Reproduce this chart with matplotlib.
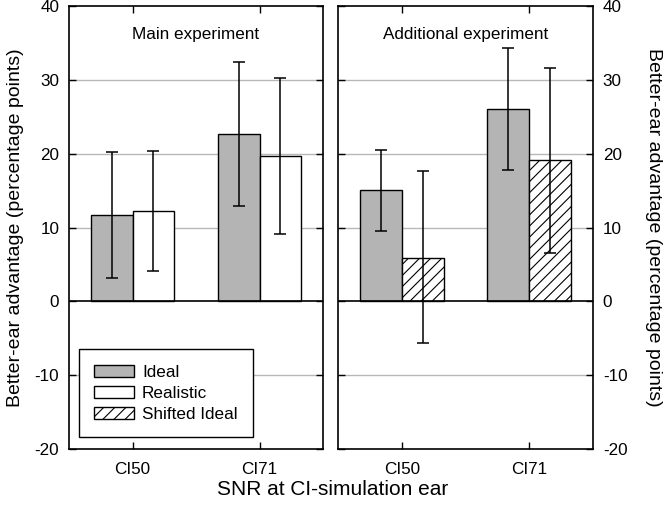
import matplotlib
matplotlib.use("Agg")
import matplotlib.pyplot as plt

plt.rcParams['font.family'] = ['Liberation Sans', 'DejaVu Sans']
plt.rcParams['hatch.linewidth'] = 0.8

# data
conditions = ["CI50", "CI71"]

main_ideal = [11.7, 22.7]
main_ideal_lo = [3.2, 12.9]
main_ideal_hi = [20.3, 32.5]
main_real = [12.2, 19.7]
main_real_lo = [4.1, 9.1]
main_real_hi = [20.4, 30.3]

add_ideal = [15.1, 26.1]
add_ideal_lo = [9.6, 17.8]
add_ideal_hi = [20.5, 34.3]
add_shift = [5.9, 19.1]
add_shift_lo = [-5.7, 6.6]
add_shift_hi = [17.6, 31.6]

ytick_vals = [-20, -10, 0, 10, 20, 30, 40]

W = 0.33
GRAY = "#b4b4b4"
FS = 12.3

fig = plt.figure(figsize=(6.66, 5.12), dpi=100)
ax1 = fig.add_axes([0.1036, 0.123, 0.3814, 0.865])
ax2 = fig.add_axes([0.5075, 0.123, 0.383, 0.865])


def err(vals, lo, hi):
    return [[v - l for v, l in zip(vals, lo)], [h - v for v, h in zip(vals, hi)]]


def draw(ax, v1, lo1, hi1, v2, lo2, hi2, hatch2, title):
    x = list(range(len(conditions)))
    xa = [i - W / 2 for i in x]
    xb = [i + W / 2 for i in x]
    for yv in [-10, 10, 20, 30]:
        ax.axhline(yv, color="#b8b8b8", lw=1.0, zorder=0)
    b1 = ax.bar(xa, v1, W, color=GRAY, edgecolor="black", lw=1.0, zorder=2, label="Ideal")
    b2 = ax.bar(xb, v2, W, color="white", edgecolor="black", lw=1.0, hatch=hatch2, zorder=2)
    ax.errorbar(xa, v1, yerr=err(v1, lo1, hi1), fmt="none", ecolor="black",
                elinewidth=1.1, capsize=4.5, capthick=1.1, zorder=3)
    ax.errorbar(xb, v2, yerr=err(v2, lo2, hi2), fmt="none", ecolor="black",
                elinewidth=1.1, capsize=4.5, capthick=1.1, zorder=3)
    ax.axhline(0, color="black", lw=1.2, zorder=2.5)
    ax.set_xlim(-0.5, 1.5)
    ax.set_ylim(-20, 40)
    ax.set_xticks(x)
    ax.set_xticklabels(conditions, fontsize=FS)
    ax.set_yticks(ytick_vals)
    ax.tick_params(direction="in", top=True, bottom=True, left=True, right=True,
                   length=5, width=1, labelsize=FS, pad=7)
    ax.tick_params(axis="x", pad=9)
    for s in ax.spines.values():
        s.set_linewidth(1.2)
    ax.text(0.5, 0.937, title, transform=ax.transAxes, ha="center", va="center",
            fontsize=FS)
    return b1, b2


b1, b2 = draw(ax1, main_ideal, main_ideal_lo, main_ideal_hi,
              main_real, main_real_lo, main_real_hi, None, "Main experiment")
b1b, b3 = draw(ax2, add_ideal, add_ideal_lo, add_ideal_hi,
               add_shift, add_shift_lo, add_shift_hi, "///", "Additional experiment")

ax1.tick_params(labelleft=True, labelright=False)
ax1.set_yticklabels([str(v) for v in ytick_vals])
ax2.tick_params(labelleft=False, labelright=True)
ax2.set_yticklabels([str(v) for v in ytick_vals])

ax1.set_ylabel("Better-ear advantage (percentage points)", fontsize=14, labelpad=8)
ax2.yaxis.set_label_position("right")
ax2.set_ylabel("Better-ear advantage (percentage points)", fontsize=14,
               rotation=-90, labelpad=25)

leg = ax1.legend([b1, b2, b3], ["Ideal", "Realistic", "Shifted Ideal"],
                 loc="lower left", bbox_to_anchor=(0.039, 0.027), fontsize=FS,
                 fancybox=False, framealpha=1, edgecolor="black",
                 handlelength=2.35, handleheight=0.7, borderpad=0.9,
                 labelspacing=0.35, handletextpad=0.45, borderaxespad=0)
leg.get_frame().set_linewidth(1.0)

fig.text(0.5, 0.043, "SNR at CI-simulation ear", ha="center", va="center", fontsize=15)

fig.savefig("out.png", dpi=100)
